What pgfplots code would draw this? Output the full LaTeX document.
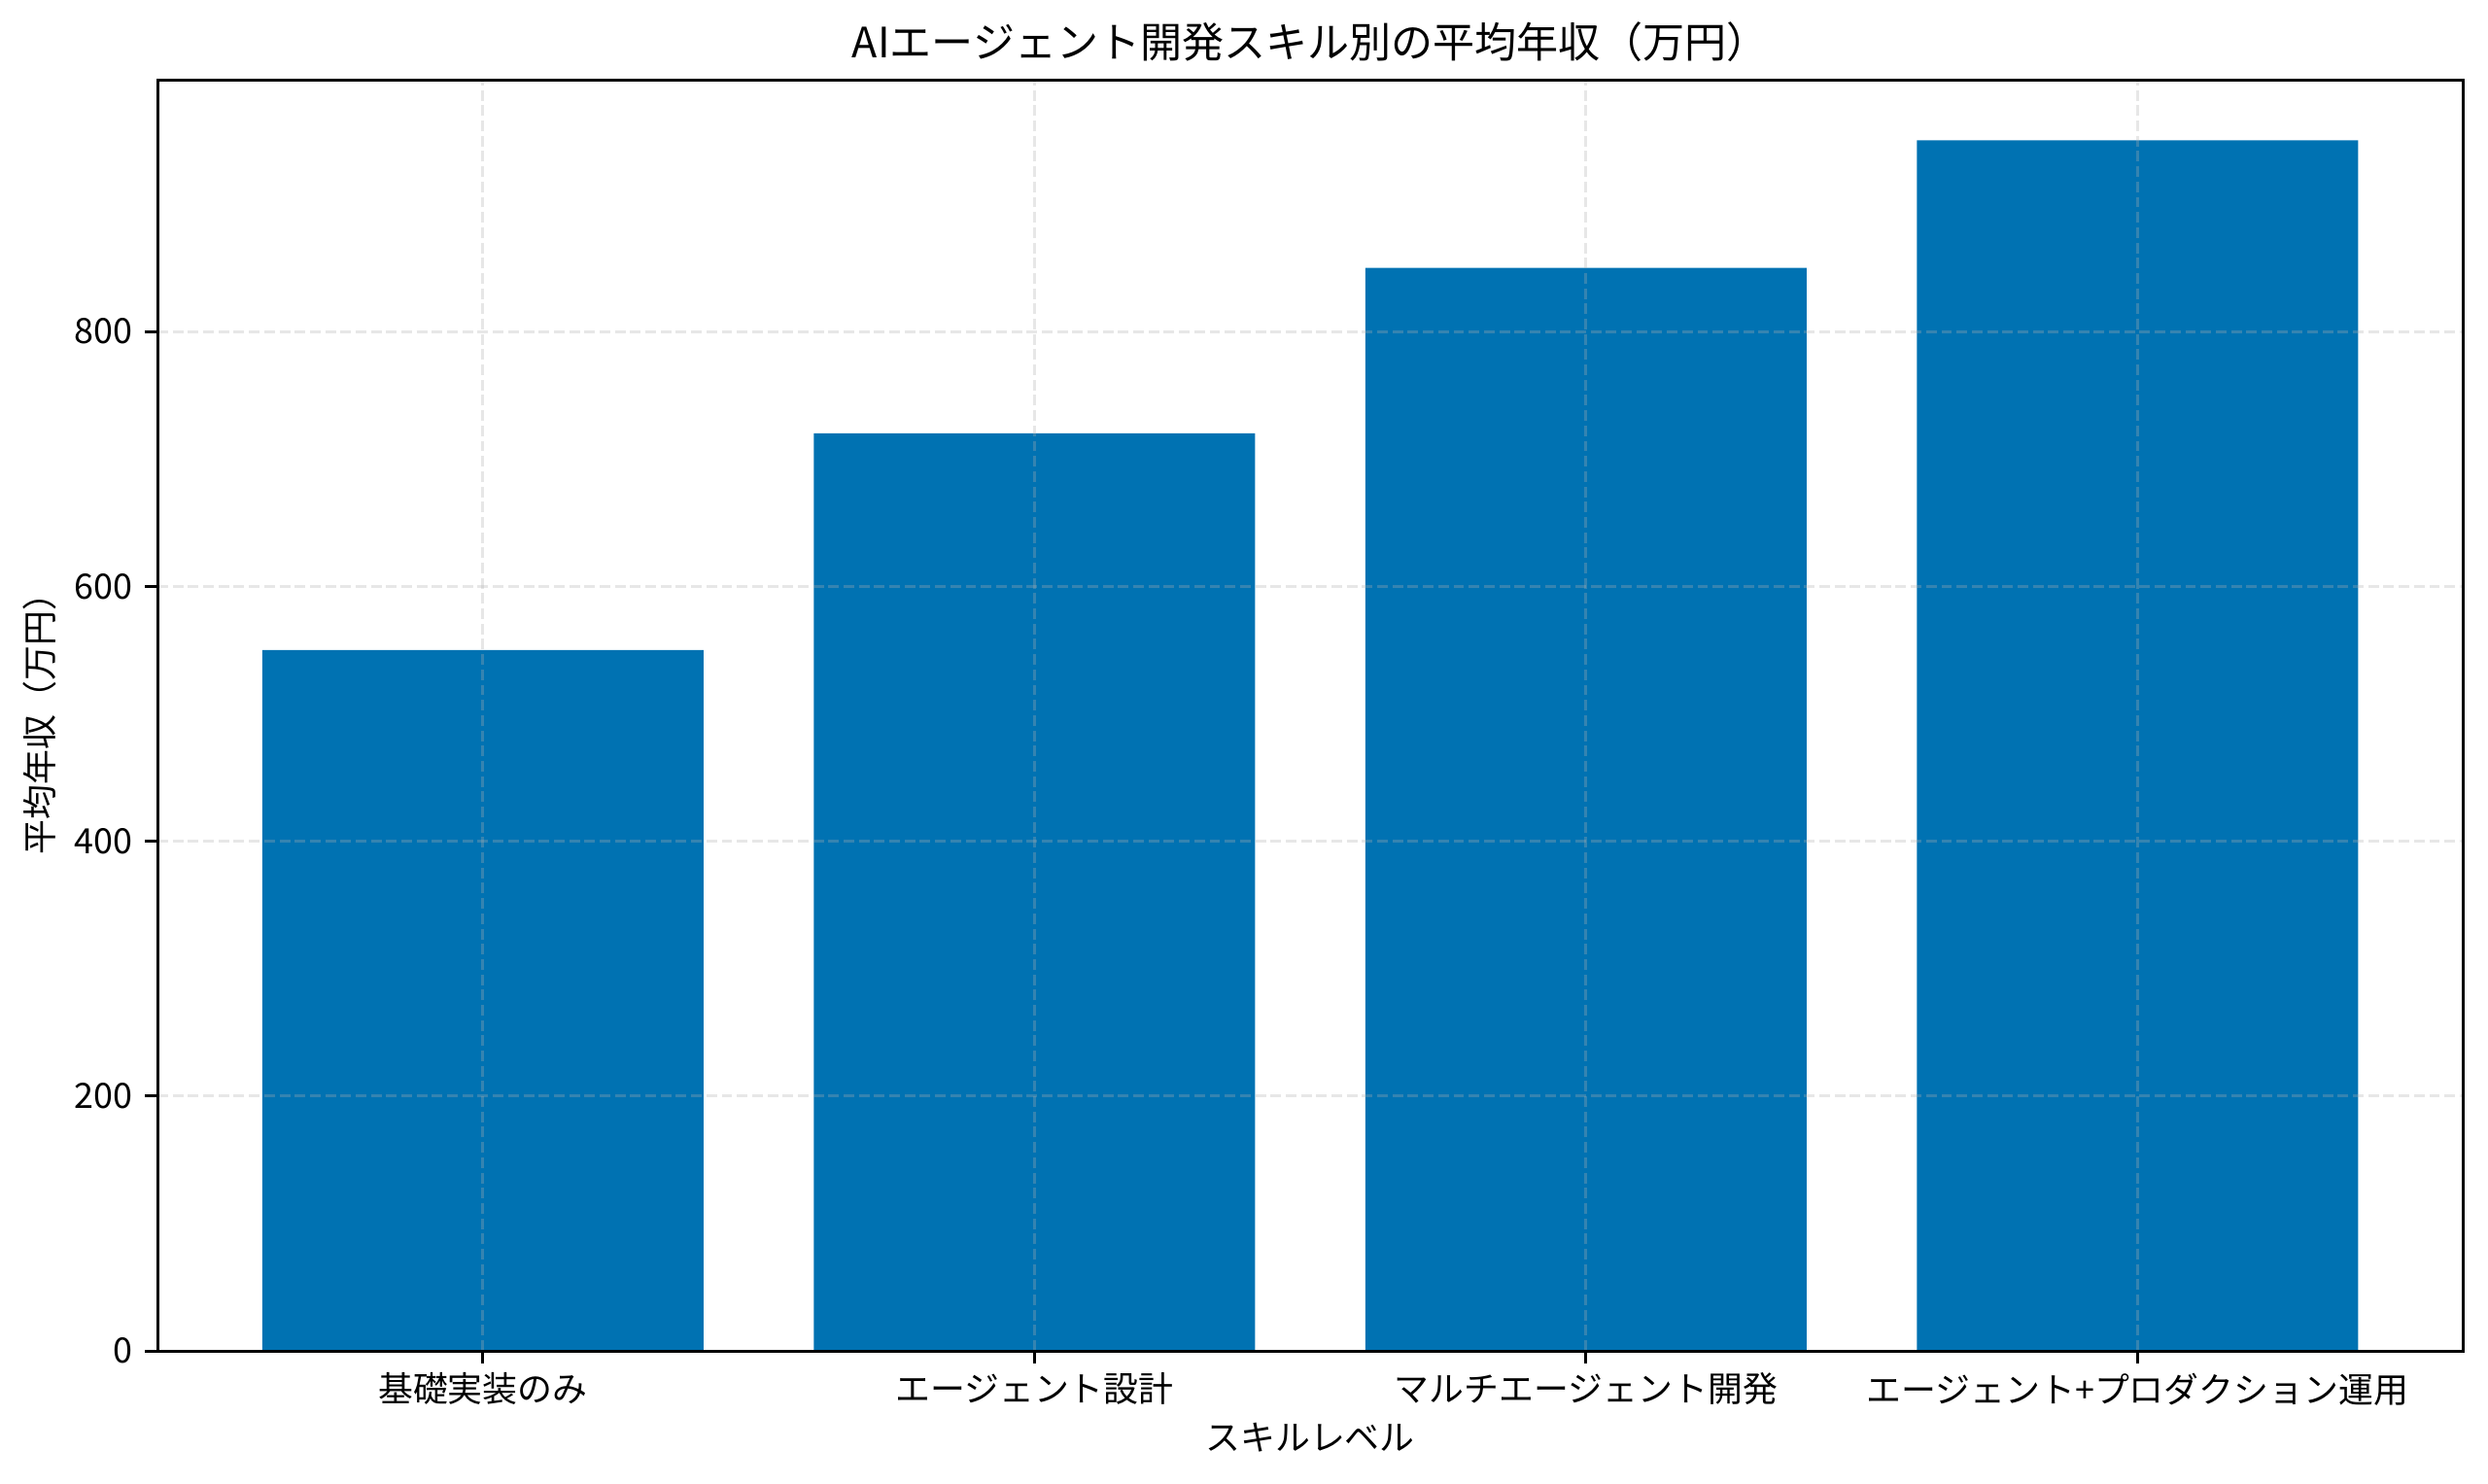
\documentclass[border=0pt]{standalone}
\usepackage{fontspec}
\setmainfont{Noto Sans CJK JP}
\usepackage{pgfplots}
\pgfplotsset{compat=1.18}
\definecolor{barblue}{HTML}{0072B2}
\definecolor{gridgray}{HTML}{B0B0B0}
\begin{document}
\begin{tikzpicture}
    \path[use as bounding box] (-43.8pt,-37pt) rectangle (648.1pt,375.7pt);
    \begin{axis}[
        at={(0,0)}, anchor=south west,
        scale only axis,
        width=641.1pt, height=353.5pt,
        xmin=-0.59, xmax=3.59,
        ymin=0, ymax=997.5,
        xtick={0,1,2,3},
        xticklabels={基礎実装のみ, エージェント設計, マルチエージェント開発, エージェント+プロダクション運用},
        ytick={0,200,400,600,800},
        tick align=outside,
        major tick length=3.5pt,
        tick style={black, line width=0.8pt},
        axis line style={line width=0.8pt},
        xtick pos=bottom, ytick pos=left,
        /pgf/number format/assume math mode=true,
        ticklabel style={font=\fontsize{9.7}{11.6}\selectfont},
        xticklabel style={yshift=0.9pt},
        grid=major,
        grid style={dashed, dash pattern=on 2.96pt off 1.28pt, gridgray, opacity=0.3, line width=0.8pt},
        axis on top,
        every axis title shift/.style={yshift=0pt},
        title={AIエージェント開発スキル別の平均年収（万円）},
        title style={at={(axis description cs:0.5,1.0125)}, anchor=center, font=\fontsize{11.64}{14}\selectfont},
        xlabel={スキルレベル},
        xlabel style={at={(axis description cs:0.5,-0.0681)}, anchor=center, font=\fontsize{9.7}{11.6}\selectfont},
        ylabel={平均年収（万円）},
        ylabel style={at={(axis description cs:-0.0512,0.5)}, anchor=center, font=\fontsize{9.7}{11.6}\selectfont},
        ]
        \addplot[ybar, bar width=0.8, fill=barblue, draw=none] coordinates {
            (0, 550)
            (1, 720)
            (2, 850)
            (3, 950)
        };
    \end{axis}
\end{tikzpicture}
\end{document}
